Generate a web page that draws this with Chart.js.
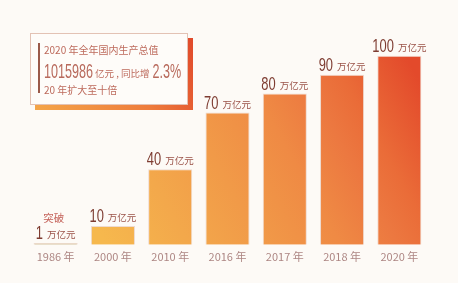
<!DOCTYPE html>
<html>
<head>
<meta charset="utf-8">
<script src="https://cdn.jsdelivr.net/npm/chart.js@4"></script>
<style>
  html, body { margin: 0; padding: 0; background: #fdfaf6; }
  #wrap { width: 458px; height: 283px; }
</style>
</head>
<body>
<div id="wrap"><canvas id="c" width="458" height="283"></canvas></div>
<script>
// data
var years = ["1986 年", "2000 年", "2010 年", "2016 年", "2017 年", "2018 年", "2020 年"];
var gdpWanYi = [1, 10, 40, 70, 80, 90, 100];
var valueText = ["1", "10", "40", "70", "80", "90", "100"];
var unitText = "万亿元";
var boxLines = ["2020 年全年国内生产总值", "1015986", "亿元 , 同比增", "2.3%", "20 年扩大至十倍"];

var CJK = '"Noto Sans CJK SC", "Noto Sans", sans-serif';

function barColor(ctx) {
    var chart = ctx.chart;
    if (!chart.chartArea) return "#f0a048";
    if (ctx.dataIndex === 0) return "#cdb98f";
    // diagonal gradient, yellow-orange at bottom left to red at top right
    var g = chart.ctx.createLinearGradient(-24, 13, 285, -160);
    g.addColorStop(0, "#f6b84d");
    g.addColorStop(0.205, "#f3a84b");
    g.addColorStop(0.386, "#f19a48");
    g.addColorStop(0.579, "#ef8a44");
    g.addColorStop(0.72, "#ec7840");
    g.addColorStop(0.815, "#ea6c38");
    g.addColorStop(1, "#e34a2b");
    return g;
}

// condensed number text
function narrowText(c, txt, x, y, size, color, sx) {
    c.save();
    c.font = size + "px 'Liberation Sans', Arial, sans-serif";
    c.fillStyle = color;
    c.textBaseline = "alphabetic";
    c.translate(x, y);
    c.scale(sx, 1);
    c.fillText(txt, 0, 0);
    var w = c.measureText(txt).width * sx;
    c.restore();
    return w;
}

function narrowWidth(c, txt, size, sx) {
    c.save();
    c.font = size + "px 'Liberation Sans', Arial, sans-serif";
    var w = c.measureText(txt).width * sx;
    c.restore();
    return w;
}

var valueLabels = {
    id: "valueLabels",
    afterDatasetsDraw: function(chart) {
        var c = chart.ctx;
        var meta = chart.getDatasetMeta(0);
        meta.data.forEach(function(bar, i) {
            var numW = narrowWidth(c, valueText[i], 19, 0.68);
            c.save();
            c.font = "9.5px " + CJK;
            var uW = c.measureText(unitText).width;
            c.restore();
            var total = numW + 4 + uW;
            var x0 = bar.x - total / 2;
            var y = bar.y - 4;
            narrowText(c, valueText[i], x0, y, 19, "#7e3c31", 0.68);
            c.save();
            c.font = "9.5px " + CJK;
            c.fillStyle = "#9a5248";
            c.textBaseline = "alphabetic";
            c.fillText(unitText, x0 + numW + 4, y - 1);
            c.restore();
            if (i === 0) {
                c.save();
                c.font = "10.5px " + CJK;
                c.fillStyle = "#c4625a";
                c.textAlign = "center";
                c.textBaseline = "middle";
                c.fillText("突破", bar.x - 2, y - 21);
                c.restore();
            }
        });
    }
};

var infoBox = {
    id: "infoBox",
    afterDraw: function(chart) {
        var c = chart.ctx;
        c.save();
        // orange shadow behind the box
        var g = c.createLinearGradient(35, 110, 194, 38);
        g.addColorStop(0, "#f4a548");
        g.addColorStop(0.6, "#ee7c3c");
        g.addColorStop(1, "#e0482a");
        c.fillStyle = g;
        c.fillRect(35, 38, 158, 72);
        c.fillStyle = "#fefcf9";
        c.fillRect(30, 33, 158, 72);
        c.strokeStyle = "#e3c2b4";
        c.lineWidth = 1;
        c.strokeRect(30.5, 33.5, 157, 71);
        c.fillStyle = "#9a5a4a";
        c.fillRect(38, 43, 2, 50);

        c.fillStyle = "#bd6a5c";
        c.textBaseline = "middle";
        c.font = "10px " + CJK;
        c.fillText(boxLines[0], 44, 50);
        var w = narrowText(c, boxLines[1], 44, 78, 21, "#b86a5c", 0.6);
        c.font = "9.5px " + CJK;
        c.fillStyle = "#bd6a5c";
        c.textBaseline = "alphabetic";
        c.fillText(boxLines[2], 44 + w + 2, 77);
        var w2 = c.measureText(boxLines[2]).width;
        narrowText(c, boxLines[3], 44 + w + 5 + w2, 78, 21, "#b86a5c", 0.6);
        c.textBaseline = "middle";
        c.font = "10px " + CJK;
        c.fillText(boxLines[4], 44, 90);
        c.restore();
    }
};

new Chart(document.getElementById("c"), {
    type: "bar",
    data: {
        labels: years,
        datasets: [{
            data: gdpWanYi,
            backgroundColor: barColor,
            borderColor: "rgba(170, 80, 40, 0.18)",
            borderWidth: 1,
            categoryPercentage: 0.77,
            barPercentage: 1
        }]
    },
    options: {
        responsive: false,
        animation: false,
        layout: { padding: { left: 27, right: 30, top: 18, bottom: 15 } },
        plugins: { legend: { display: false }, tooltip: { enabled: false } },
        scales: {
            x: {
                grid: { display: false, drawTicks: false },
                border: { display: false },
                ticks: { color: "#ad8683", font: { family: CJK, size: 11 }, padding: 5 }
            },
            y: { display: false, min: 0, max: 120 }
        }
    },
    plugins: [valueLabels, infoBox]
});
</script>
</body>
</html>
